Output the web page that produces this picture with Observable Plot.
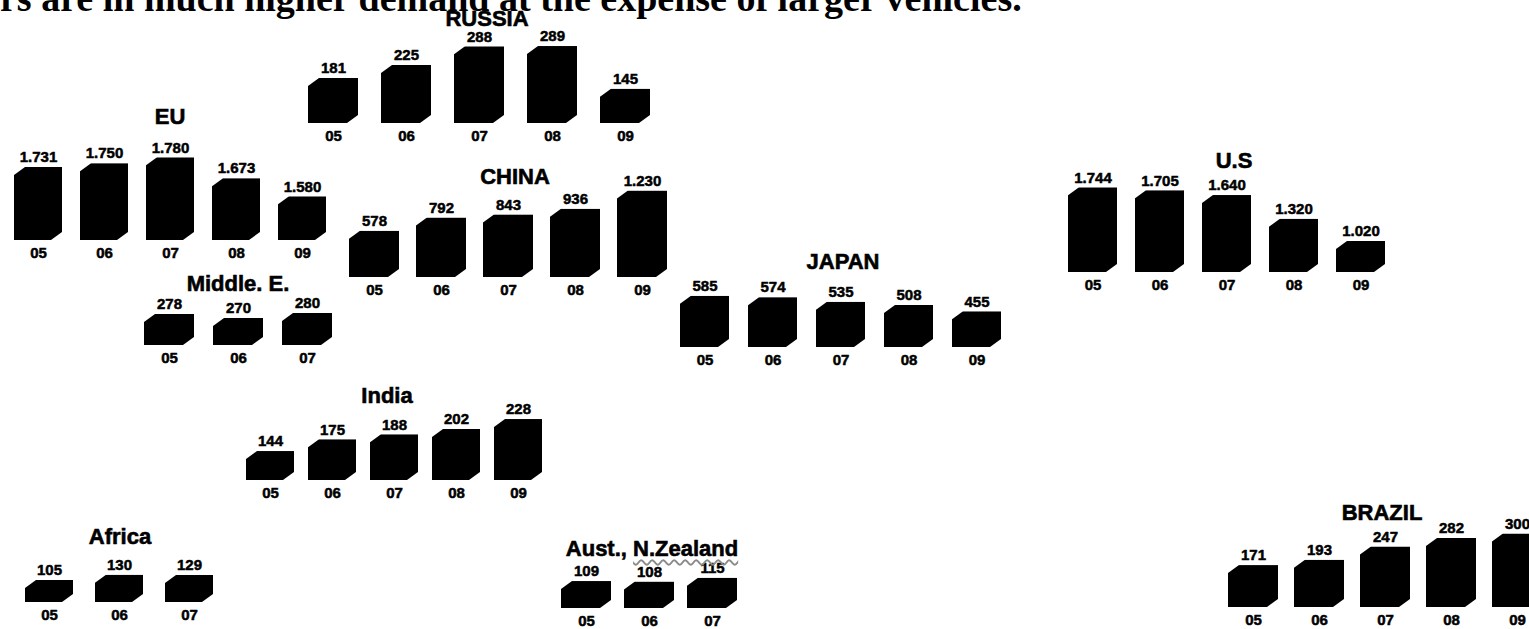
<!DOCTYPE html>
<html>
<head>
<meta charset="utf-8">
<script src="https://cdn.jsdelivr.net/npm/d3@7"></script>
<script src="https://cdn.jsdelivr.net/npm/@observablehq/plot@0.6"></script>
<style>
  html, body { margin: 0; padding: 0; background: #fff; overflow: hidden; }
  #chart { position: relative; width: 1529px; height: 629px; overflow: hidden; background: #fff; }
  #headline {
    position: absolute; left: 0; top: -21px; white-space: nowrap;
    font: bold 38px "Liberation Serif", "Times New Roman", serif; line-height: 38px; color: #000;
  }
  .region {
    position: absolute; transform: translate(-50%, -50%); white-space: nowrap;
    font: bold 22px "Liberation Sans", Arial, sans-serif; color: #000;
    -webkit-text-stroke: 0.6px #000;
  }
  .region .squiggle { text-decoration: underline wavy #8a8a8a; text-decoration-thickness: 2px; text-underline-offset: 3px; }
  .layer { position: absolute; left: 0; top: 0; }
  /* boxy bars: cut the top-left and bottom-right corners */
  .layer g[aria-label="bar"] rect {
    clip-path: polygon(0 8px, 11px 0, 100% 0, 100% calc(100% - 8px), calc(100% - 11px) 100%, 0 100%);
  }
</style>
</head>
<body>
<div id="chart">
  <div id="headline">rs are in much higher demand at the expense of larger vehicles.</div>
</div>
<script>
// Model years and yearly sales by region
const years5 = ["05", "06", "07", "08", "09"];
const years3 = ["05", "06", "07"];

const euSales = [1731, 1750, 1780, 1673, 1580];
const russiaSales = [181, 225, 288, 289, 145];
const chinaSales = [578, 792, 843, 936, 1230];
const japanSales = [585, 574, 535, 508, 455];
const usSales = [1744, 1705, 1640, 1320, 1020];
const middleEastSales = [278, 270, 280];
const indiaSales = [144, 175, 188, 202, 228];
const africaSales = [105, 130, 129];
const oceaniaSales = [109, 108, 115];
const brazilSales = [171, 193, 247, 282, 300];

// Where each regional cluster sits on the page and how tall its boxes grow
const layout = [
  {label: "EU",            years: years5, values: euSales,         x0: 12,   x1: 328,  bar: 49, base: 240, floor: 1356, pxPerUnit: 0.195,  at: [170, 117]},
  {label: "RUSSIA",        years: years5, values: russiaSales,     x0: 308,  x1: 650,  bar: 50, base: 123, floor: 29,   pxPerUnit: 0.296,  at: [487, 19]},
  {label: "CHINA",         years: years5, values: chinaSales,      x0: 348,  x1: 667,  bar: 50, base: 277, floor: -173, pxPerUnit: 0.0616, at: [515, 177]},
  {label: "JAPAN",         years: years5, values: japanSales,      x0: 678,  x1: 1003, bar: 50, base: 347, floor: 155,  pxPerUnit: 0.119,  at: [843, 262]},
  {label: "U.S",           years: years5, values: usSales,         x0: 1068, x1: 1385, bar: 49, base: 272, floor: 600,  pxPerUnit: 0.074,  at: [1234, 161]},
  {label: "Middle. E.",    years: years3, values: middleEastSales, x0: 143,  x1: 332,  bar: 50, base: 345, floor: 216,  pxPerUnit: 0.5,    at: [238, 284]},
  {label: "India",         years: years5, values: indiaSales,      x0: 245,  x1: 542,  bar: 48, base: 480, floor: 68,   pxPerUnit: 0.381,  at: [387, 396]},
  {label: "Africa",        years: years3, values: africaSales,     x0: 25,   x1: 213,  bar: 48, base: 602, floor: 0,    pxPerUnit: 0.21,   at: [120, 537]},
  {label: "Aust., <span class=\"squiggle\">N.Zealand</span>", years: years3, values: oceaniaSales, x0: 560, x1: 737, bar: 50, base: 608, floor: 60, pxPerUnit: 0.55, at: [652, 549]},
  {label: "BRAZIL",        years: years5, values: brazilSales,     x0: 1227, x1: 1542, bar: 50, base: 607, floor: 0,    pxPerUnit: 0.245,  at: [1382, 513]}
];

const fmt = d3.formatLocale({decimal: ",", thousands: ".", grouping: [3], currency: ["", ""]}).format(",d");
const labelFont = {
  fontFamily: "'Liberation Sans', Arial, sans-serif",
  fontWeight: "bold",
  fill: "#000",
  stroke: "#000",
  strokeWidth: 0.5,
  textAnchor: "middle",
  lineAnchor: "middle"
};

const chart = document.getElementById("chart");

for (const r of layout) {
  const rows = r.years.map((year, i) => ({year, value: r.values[i]}));
  const n = rows.length;
  const span = r.x1 - r.x0;
  const pad = (span - n * r.bar) / (span - r.bar);
  const vmax = d3.max(r.values);

  const svg = Plot.plot({
    width: 1529,
    height: 629,
    margin: 0,
    style: {background: "transparent", overflow: "visible"},
    x: {type: "band", domain: r.years, range: [r.x0, r.x1], paddingInner: pad, paddingOuter: 0, axis: null},
    y: {domain: [r.floor, vmax], range: [r.base, r.base - (vmax - r.floor) * r.pxPerUnit], axis: null},
    marks: [
      Plot.barY(rows, {x: "year", y1: () => r.floor, y2: "value", fill: "#000", insetLeft: 0, insetRight: 0}),
      Plot.text(rows, {x: "year", y: "value", text: (d) => fmt(d.value), dy: -10, fontSize: 15, ...labelFont}),
      Plot.text(rows, {x: "year", y: () => r.floor, text: "year", dy: 13, fontSize: 15, ...labelFont})
    ]
  });
  svg.classList.add("layer");
  chart.appendChild(svg);

  const title = document.createElement("div");
  title.className = "region";
  title.style.left = r.at[0] + "px";
  title.style.top = r.at[1] + "px";
  title.innerHTML = r.label;
  chart.appendChild(title);
}
</script>
</body>
</html>
